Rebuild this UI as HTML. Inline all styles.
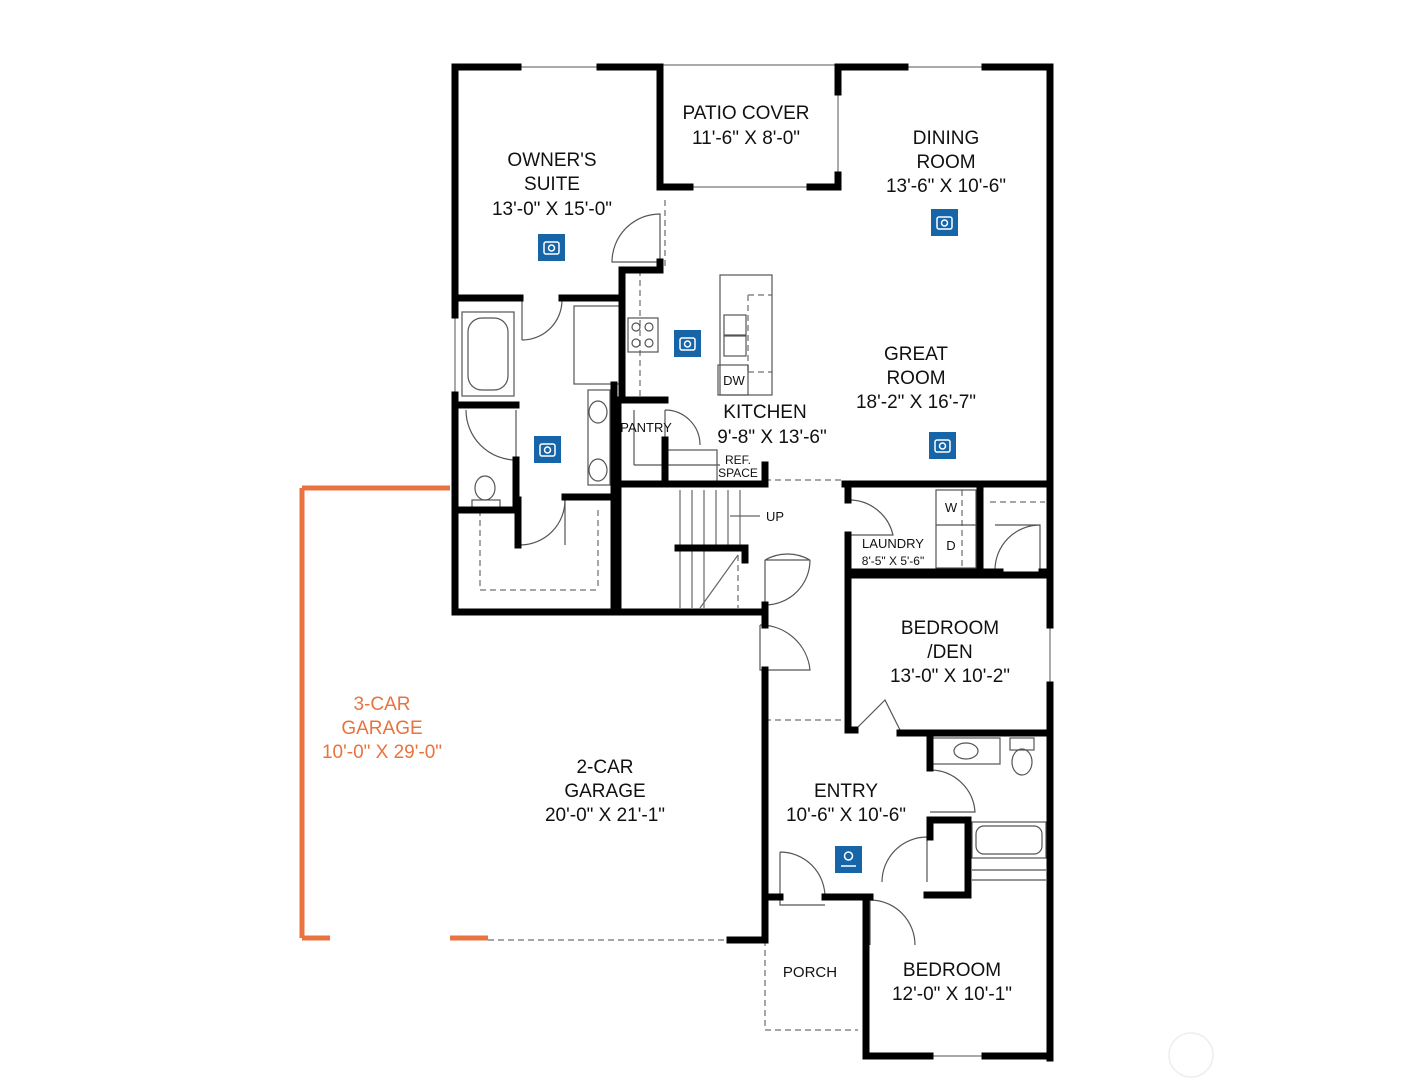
<!DOCTYPE html>
<html><head><meta charset="utf-8"><style>
body{margin:0;background:#fff}
svg{display:block}
text{font-family:"Liberation Sans",Arial,sans-serif;fill:#111;text-anchor:middle}
.t{font-size:19px}
.s{font-size:13px}
</style></head><body>
<svg width="1402" height="1090" viewBox="0 0 1402 1090" xmlns="http://www.w3.org/2000/svg">
<g stroke="#aaa" stroke-width="2" fill="none">
<line x1="518" y1="67" x2="600" y2="67"/>
<line x1="660" y1="65" x2="838" y2="65"/>
<line x1="690" y1="187" x2="810" y2="187"/>
<line x1="838" y1="95" x2="838" y2="178"/>
<line x1="905" y1="67" x2="985" y2="67"/>
<line x1="1050" y1="625" x2="1050" y2="685"/>
<line x1="930" y1="1056" x2="985" y2="1056"/>
<line x1="455" y1="315" x2="455" y2="395"/>
</g>
<g stroke="#888" stroke-width="1.5" fill="none" stroke-dasharray="6,4">
<line x1="488" y1="940" x2="730" y2="940"/>
<line x1="765" y1="940" x2="765" y2="1030"/>
<line x1="765" y1="1030" x2="858" y2="1030"/>
<line x1="765" y1="720" x2="848" y2="720"/>
<line x1="765" y1="480" x2="845" y2="480"/>
<line x1="640" y1="270" x2="640" y2="400"/>
<line x1="665" y1="200" x2="665" y2="270"/>
<line x1="748" y1="295" x2="772" y2="295"/><line x1="748" y1="295" x2="748" y2="372"/><line x1="748" y1="372" x2="772" y2="372"/>
<line x1="480" y1="510" x2="480" y2="590"/><line x1="480" y1="590" x2="598" y2="590"/><line x1="598" y1="510" x2="598" y2="590"/>
<line x1="738" y1="545" x2="738" y2="608"/>
<line x1="990" y1="502" x2="1045" y2="502"/>
<line x1="962" y1="490" x2="962" y2="568"/>
</g>
<g stroke="#555" stroke-width="1.2" fill="none">
<rect x="720" y="275" width="52" height="120"/>
<rect x="724" y="315" width="22" height="20"/><rect x="724" y="336" width="22" height="20"/>
<rect x="718" y="365" width="30" height="30"/>
<rect x="628" y="318" width="30" height="34"/>
<circle cx="636" cy="327" r="4"/><circle cx="649" cy="327" r="4"/><circle cx="636" cy="343" r="4"/><circle cx="649" cy="343" r="4"/>
<rect x="574" y="306" width="46" height="78"/>
<rect x="462" y="312" width="52" height="84"/><rect x="468" y="318" width="40" height="72" rx="14"/>
<rect x="588" y="390" width="22" height="95"/>
<ellipse cx="598" cy="412" rx="9" ry="11"/><ellipse cx="598" cy="470" rx="9" ry="11"/>
<ellipse cx="485" cy="488" rx="10" ry="12"/><rect x="472" y="500" width="28" height="10"/>
<rect x="936" y="490" width="40" height="78"/><line x1="936" y1="525" x2="976" y2="525"/>
<rect x="932" y="738" width="68" height="26"/><ellipse cx="966" cy="751" rx="12" ry="8"/>
<rect x="1010" y="738" width="24" height="12"/><ellipse cx="1022" cy="762" rx="10" ry="13"/>
<rect x="972" y="822" width="74" height="36"/><rect x="976" y="826" width="66" height="28" rx="8"/>
<line x1="972" y1="870" x2="1046" y2="870"/><line x1="972" y1="880" x2="1046" y2="880"/>
<line x1="634" y1="410" x2="634" y2="465"/><line x1="634" y1="465" x2="720" y2="465"/>
<rect x="665" y="450" width="52" height="34"/>
<g stroke="#666">
<line x1="680" y1="490" x2="680" y2="608"/><line x1="692" y1="490" x2="692" y2="608"/><line x1="704" y1="490" x2="704" y2="608"/><line x1="716" y1="490" x2="716" y2="548"/><line x1="728" y1="490" x2="728" y2="548"/><line x1="740" y1="490" x2="740" y2="548"/>
<line x1="700" y1="608" x2="738" y2="555"/>
<line x1="730" y1="516" x2="760" y2="516"/>
</g>
<path d="M612 262 A48 48 0 0 1 660 214 L660 262 Z"/>
<path d="M522 340 A40 40 0 0 0 562 300"/><line x1="522" y1="300" x2="522" y2="340"/>
<path d="M466 410 A50 50 0 0 0 516 460"/><line x1="516" y1="410" x2="516" y2="460"/>
<path d="M520 545 A45 45 0 0 0 565 500"/><line x1="565" y1="500" x2="565" y2="545"/>
<path d="M665 410 A35 35 0 0 1 700 445"/><line x1="665" y1="410" x2="665" y2="445"/>
<path d="M848 500 A45 45 0 0 1 893 535 L848 535"/>
<path d="M765 560 A45 45 0 0 1 810 560 M765 560 L810 560 M765 560 L765 605 M810 560 A45 45 0 0 1 765 605"/>
<path d="M760 625 L760 670 L810 670 A50 50 0 0 0 760 625"/>
<path d="M855 730 L885 700 L900 730"/>
<path d="M930 770 A45 45 0 0 1 975 812 L930 812"/>
<path d="M995 525 L1040 525 L1040 570 M995 570 A45 45 0 0 1 1040 525"/>
<path d="M882 882 A45 45 0 0 1 927 837 L927 882"/>
<path d="M780 852 L780 905 L825 905 M780 852 A45 45 0 0 1 825 897"/>
<path d="M870 945 L870 900 A45 45 0 0 1 915 945"/>
</g>
<g stroke="#000" stroke-width="7" fill="none" stroke-linecap="square">
<line x1="455" y1="67" x2="518" y2="67"/><line x1="600" y1="67" x2="660" y2="67"/>
<line x1="455" y1="67" x2="455" y2="315"/><line x1="455" y1="395" x2="455" y2="612"/>
<line x1="660" y1="67" x2="660" y2="185"/><line x1="660" y1="262" x2="660" y2="270"/>
<line x1="660" y1="187" x2="690" y2="187"/><line x1="810" y1="187" x2="838" y2="187"/>
<line x1="838" y1="67" x2="838" y2="92"/><line x1="838" y1="175" x2="838" y2="187"/>
<line x1="838" y1="67" x2="905" y2="67"/><line x1="985" y1="67" x2="1050" y2="67"/>
<line x1="1050" y1="67" x2="1050" y2="625"/><line x1="1050" y1="685" x2="1050" y2="1058"/>
<line x1="866" y1="1056" x2="930" y2="1056"/><line x1="985" y1="1056" x2="1050" y2="1056"/>
<line x1="866" y1="897" x2="866" y2="1056"/>
<line x1="455" y1="612" x2="765" y2="612"/>
<line x1="622" y1="270" x2="660" y2="270"/><line x1="622" y1="270" x2="622" y2="400"/>
<line x1="455" y1="298" x2="520" y2="298"/><line x1="562" y1="298" x2="622" y2="298"/>
<line x1="455" y1="405" x2="516" y2="405"/>
<line x1="516" y1="460" x2="516" y2="510"/><line x1="455" y1="510" x2="516" y2="510"/>
<line x1="518" y1="500" x2="518" y2="545"/><line x1="565" y1="497" x2="614" y2="497"/>
<line x1="614" y1="385" x2="614" y2="612"/>
<line x1="618" y1="400" x2="665" y2="400"/><line x1="618" y1="400" x2="618" y2="612"/>
<line x1="618" y1="484" x2="765" y2="484"/><line x1="665" y1="440" x2="665" y2="484"/>
<line x1="765" y1="465" x2="765" y2="484"/>
<line x1="678" y1="548" x2="745" y2="548"/><line x1="745" y1="548" x2="745" y2="560"/>
<line x1="765" y1="605" x2="765" y2="625"/><line x1="765" y1="670" x2="765" y2="940"/>
<line x1="730" y1="940" x2="765" y2="940"/>
<line x1="845" y1="484" x2="1050" y2="484"/>
<line x1="848" y1="484" x2="848" y2="500"/><line x1="848" y1="535" x2="848" y2="730"/>
<line x1="848" y1="572" x2="980" y2="572"/><line x1="980" y1="484" x2="980" y2="572"/>
<line x1="980" y1="572" x2="1000" y2="572"/><line x1="1042" y1="572" x2="1050" y2="572"/>
<line x1="848" y1="575" x2="1050" y2="575"/>
<line x1="848" y1="730" x2="855" y2="730"/><line x1="900" y1="733" x2="1050" y2="733"/>
<line x1="930" y1="733" x2="930" y2="768"/>
<line x1="930" y1="820" x2="968" y2="820"/><line x1="930" y1="820" x2="930" y2="837"/>
<line x1="968" y1="820" x2="968" y2="895"/><line x1="927" y1="895" x2="968" y2="895"/>
<line x1="765" y1="897" x2="780" y2="897"/><line x1="825" y1="897" x2="870" y2="897"/>
</g>
<g stroke="#e8733f" stroke-width="5" fill="none">
<line x1="302" y1="488" x2="450" y2="488"/>
<line x1="302" y1="488" x2="302" y2="938"/>
<line x1="302" y1="938" x2="330" y2="938"/><line x1="450" y1="938" x2="488" y2="938"/>
</g>
<g fill="#1565a8">
<rect x="538" y="234" width="27" height="27"/><rect x="674" y="330" width="27" height="27"/>
<rect x="931" y="209" width="27" height="27"/><rect x="929" y="432" width="27" height="27"/>
<rect x="534" y="436" width="27" height="27"/><rect x="835" y="846" width="27" height="27"/>
</g>
<g fill="none" stroke="#fff" stroke-width="1.5">
<rect x="544" y="242" width="15" height="12" rx="2"/><circle cx="551.5" cy="248" r="3"/>
<rect x="680" y="338" width="15" height="12" rx="2"/><circle cx="687.5" cy="344" r="3"/>
<rect x="937" y="217" width="15" height="12" rx="2"/><circle cx="944.5" cy="223" r="3"/>
<rect x="935" y="440" width="15" height="12" rx="2"/><circle cx="942.5" cy="446" r="3"/>
<rect x="540" y="444" width="15" height="12" rx="2"/><circle cx="547.5" cy="450" r="3"/>
<circle cx="848.5" cy="856" r="4"/><path d="M841 866 L856 866"/>
</g>
<circle cx="1191" cy="1055" r="22" fill="none" stroke="#eee" stroke-width="1.5"/>
<text class="t" x="552" y="166">OWNER'S</text><text class="t" x="552" y="190">SUITE</text><text class="t" x="552" y="215">13'-0" X 15'-0"</text>
<text class="t" x="746" y="119">PATIO COVER</text><text class="t" x="746" y="144">11'-6" X 8'-0"</text>
<text class="t" x="946" y="144">DINING</text><text class="t" x="946" y="168">ROOM</text><text class="t" x="946" y="192">13'-6" X 10'-6"</text>
<text class="t" x="916" y="360">GREAT</text><text class="t" x="916" y="384">ROOM</text><text class="t" x="916" y="408">18'-2" X 16'-7"</text>
<text class="t" x="765" y="418">KITCHEN</text><text class="t" x="772" y="443">9'-8" X 13'-6"</text>
<text class="s" x="646" y="432">PANTRY</text>
<text class="s" x="738" y="464" style="font-size:12px">REF.</text><text class="s" x="738" y="477" style="font-size:12px">SPACE</text>
<text class="s" x="775" y="521">UP</text>
<text class="s" x="734" y="385">DW</text>
<text class="s" x="951" y="512">W</text><text class="s" x="951" y="550">D</text>
<text class="s" x="893" y="548">LAUNDRY</text><text class="s" x="893" y="565" style="font-size:12px">8'-5" X 5'-6"</text>
<text class="t" x="950" y="634">BEDROOM</text><text class="t" x="950" y="658">/DEN</text><text class="t" x="950" y="682">13'-0" X 10'-2"</text>
<text class="t" x="846" y="797">ENTRY</text><text class="t" x="846" y="821">10'-6" X 10'-6"</text>
<text class="t" x="605" y="773">2-CAR</text><text class="t" x="605" y="797">GARAGE</text><text class="t" x="605" y="821">20'-0" X 21'-1"</text>
<text class="t" x="382" y="710" style="fill:#e8733f">3-CAR</text><text class="t" x="382" y="734" style="fill:#e8733f">GARAGE</text><text class="t" x="382" y="758" style="fill:#e8733f">10'-0" X 29'-0"</text>
<text class="s" x="810" y="977" style="font-size:15px">PORCH</text>
<text class="t" x="952" y="976">BEDROOM</text><text class="t" x="952" y="1000">12'-0" X 10'-1"</text>
</svg>
</body></html>
